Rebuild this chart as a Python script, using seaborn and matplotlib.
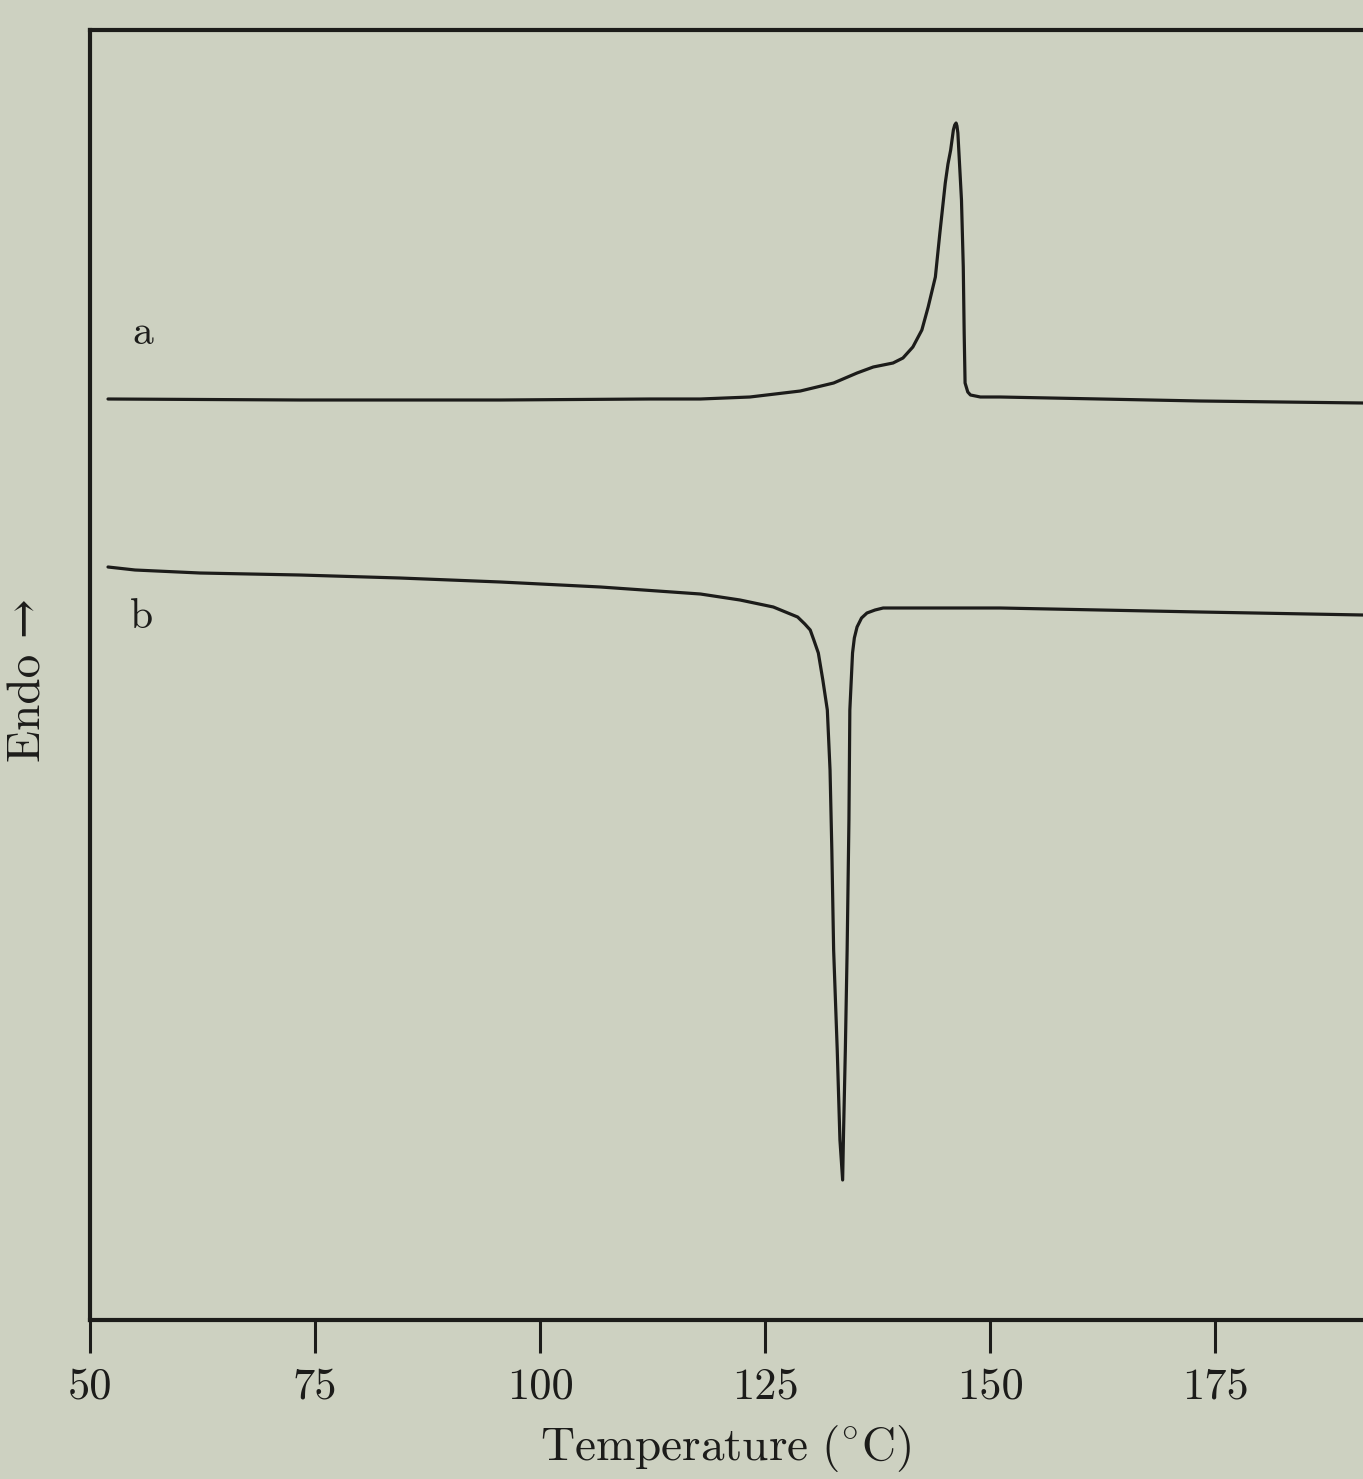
import numpy as np
import pandas as pd
import matplotlib
matplotlib.use('Agg')
import matplotlib.pyplot as plt
import seaborn as sns

# Curve a: temperature in deg C, signal in arbitrary units
temp_a = [52.0, 73.3, 95.6, 112.2, 117.8, 123.3, 128.9, 132.6, 135.2, 137.0,
          139.2, 140.3, 141.4, 142.4, 143.1, 143.9, 144.4, 145.0, 145.3, 145.6,
          145.9, 146.05, 146.2, 146.3, 146.4, 146.8, 147.0, 147.1, 147.2, 147.5,
          147.8, 148.9, 151.1, 162.2, 173.3, 191.4]
signal_a = [92.1, 92.0, 92.0, 92.1, 92.1, 92.3, 92.9, 93.7, 94.7, 95.3,
            95.7, 96.2, 97.3, 99.0, 101.3, 104.3, 108.7, 113.7, 115.6, 117.0,
            119.0, 119.5, 119.7, 119.4, 118.7, 112.0, 105.3, 98.7, 93.7, 92.8,
            92.5, 92.3, 92.3, 92.1, 91.9, 91.7]

# Curve b
temp_b = [52.0, 55.0, 62.2, 73.3, 84.4, 95.6, 106.7, 117.8, 122.2, 125.9,
          128.6, 129.4, 130.0, 130.4, 130.9, 131.4, 131.9, 132.2, 132.4, 132.6,
          133.0, 133.3, 133.6, 133.7, 133.9, 134.1, 134.3, 134.4, 134.7, 134.9,
          135.2, 135.7, 136.3, 137.2, 138.1, 142.2, 151.1, 162.2, 173.3, 191.4]
signal_b = [75.3, 75.0, 74.7, 74.5, 74.2, 73.8, 73.3, 72.6, 72.0, 71.3,
            70.3, 69.6, 69.0, 68.0, 66.7, 64.0, 61.0, 55.0, 47.0, 37.0,
            27.0, 18.0, 14.0, 18.7, 27.0, 37.0, 50.0, 61.0, 66.7, 68.2,
            69.3, 70.2, 70.7, 71.0, 71.2, 71.2, 71.2, 71.0, 70.8, 70.5]

xticks = [50, 75, 100, 125, 150, 175]
curve_labels = ['a', 'b']
label_pos = [(55.9, 98.7), (55.7, 70.3)]

df = pd.concat([
    pd.DataFrame({'temp': temp_a, 'signal': signal_a, 'curve': 'a'}),
    pd.DataFrame({'temp': temp_b, 'signal': signal_b, 'curve': 'b'}),
])

bg = '#cdd1c1'
ink = '#1c1c1a'
sns.set_theme(style='white')
plt.rcParams['font.family'] = ['cmr10', 'DejaVu Serif']
plt.rcParams['mathtext.fontset'] = 'cm'
plt.rcParams['axes.formatter.use_mathtext'] = True

fig = plt.figure(figsize=(13.63, 14.79), dpi=100, facecolor=bg)
ax = fig.add_axes([90 / 1363, 1 - 1320 / 1479, 1 - 90 / 1363, (1320 - 30) / 1479])
ax.set_facecolor(bg)

for name in curve_labels:
    sub = df[df['curve'] == name]
    sns.lineplot(x=sub['temp'], y=sub['signal'], ax=ax, color=ink,
                 linewidth=2.3, sort=False, estimator=None, legend=False)

for name, (tx, ty) in zip(curve_labels, label_pos):
    ax.text(tx, ty, name, fontsize=30, ha='center', va='center', color=ink)

ax.set_xlim(50, 191.4)
ax.set_ylim(0, 129)
ax.set_xticks(xticks)
ax.set_xticklabels([str(t) for t in xticks])
ax.set_yticks([])
ax.tick_params(axis='x', direction='out', length=24, width=2.2, color=ink,
               labelsize=32, labelcolor=ink, pad=10, bottom=True)

for side in ['left', 'bottom', 'top']:
    ax.spines[side].set_color(ink)
    ax.spines[side].set_linewidth(3)
ax.spines['right'].set_visible(False)

ax.set_xlabel(r'$\mathrm{Temperature\ (^{\circ}C)}$', fontsize=34, color=ink)
ax.xaxis.set_label_coords((726 - 90) / (1363 - 90), -(1423 - 1320) / (1320 - 30))
ax.set_ylabel('Endo →', fontsize=34, color=ink)
ax.yaxis.set_label_coords(-(90 - 50) / (1363 - 90), (1320 - 680) / (1320 - 30))

fig.savefig('out.png', dpi=100, facecolor=bg)
